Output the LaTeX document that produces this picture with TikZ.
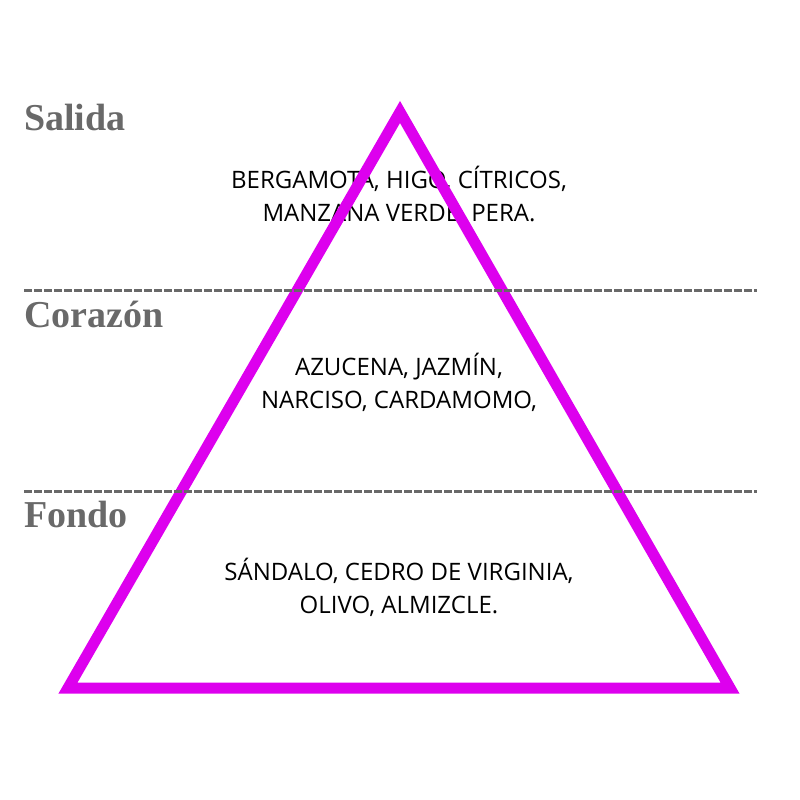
\documentclass[tikz,border=0pt]{standalone}
\usepackage{fontspec}
\setmainfont{Open Sans}
\newfontfamily\labelfont{Liberation Serif}
\usetikzlibrary{positioning}
\definecolor{pyramidmagenta}{RGB}{221,0,238}
\definecolor{layergray}{RGB}{105,105,105}

\begin{document}
\begin{tikzpicture}[x=1pt, y=-1pt,
    notes/.style={align=center, anchor=base, text=black,
      font=\fontsize{24pt}{33pt}\selectfont},
    layer/.style={anchor=base west, inner sep=0pt, text=layergray,
      font=\labelfont\bfseries\fontsize{38pt}{40pt}\selectfont},
    divider/.style={layergray, line width=3pt, dash pattern=on 7.5pt off 2.5pt}]
  \useasboundingbox (0,0) rectangle (800,800);
  % notes inside the pyramid
  \node[notes] (top) at (399,221) {BERGAMOTA, HIGO, CÍTRICOS,\\MANZANA VERDE, PERA.};
  \node[notes] (heart) at (399,408) {AZUCENA, JAZMÍN,\\NARCISO, CARDAMOMO,};
  \node[notes] (base) at (399,613) {SÁNDALO, CEDRO DE VIRGINIA,\\OLIVO, ALMIZCLE.};
  % pyramid
  \coordinate (apex) at (400,112);
  \coordinate (left) at (68,688);
  \coordinate (right) at (730,688);
  \draw[pyramidmagenta, line width=11pt, line join=miter] (apex) -- (right) -- (left) -- cycle;
  % layer dividers
  \coordinate (d1w) at (24,290);
  \coordinate (d1e) at (757,290);
  \coordinate (d2w) at (24,491);
  \coordinate (d2e) at (757,491);
  \draw[divider] (d1w) -- (d1e);
  \draw[divider] (d2w) -- (d2e);
  % layer names
  \node[layer] (salida) at (24,130) {Salida};
  \node[layer] (corazon) at (24,327) {Corazón};
  \node[layer] (fondo) at (24,527) {Fondo};
\end{tikzpicture}
\end{document}
